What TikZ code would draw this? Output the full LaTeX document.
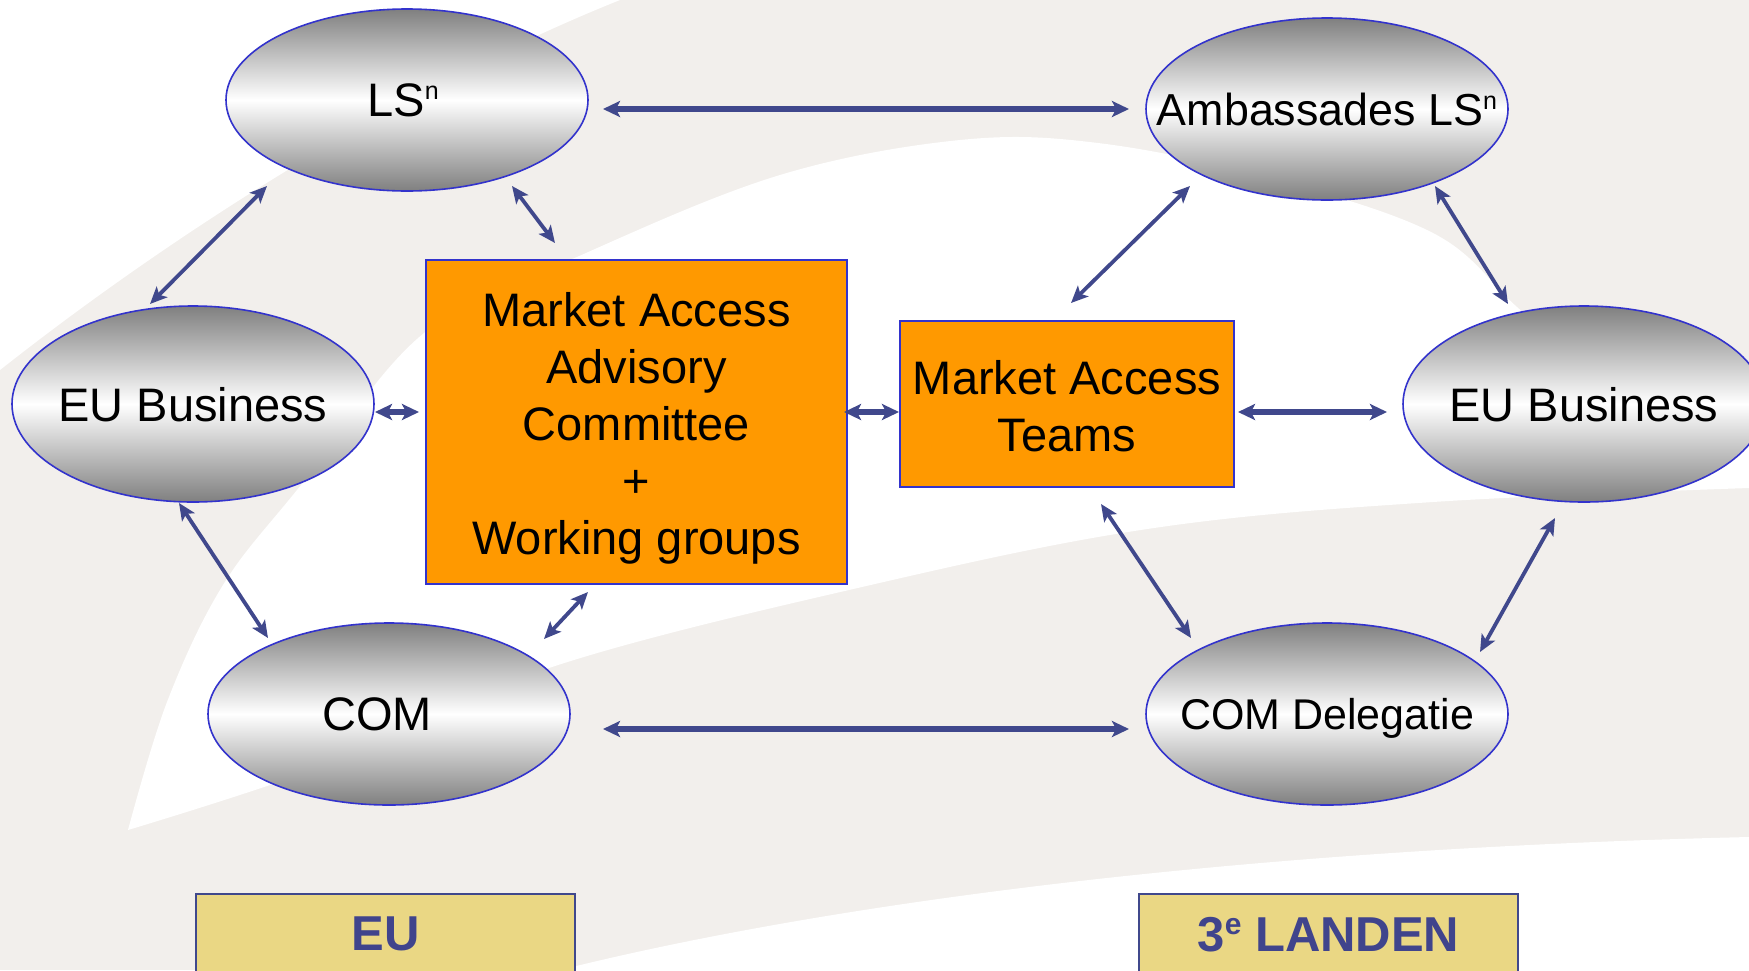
\documentclass[tikz,border=0pt]{standalone}
\usepackage{fontspec}
\setmainfont{Liberation Sans}
\usetikzlibrary{shapes.geometric,arrows.meta,calc}
\definecolor{bgray}{RGB}{242,239,236}
\definecolor{arrowc}{RGB}{64,72,140}
\definecolor{ellborder}{RGB}{51,51,204}
\definecolor{orangefill}{RGB}{255,153,0}
\definecolor{sandfill}{RGB}{234,215,132}
\definecolor{labtext}{RGB}{64,68,140}
\newcommand\mysup[2]{\raisebox{#2}{\fontsize{#1}{#1}\selectfont n}}
\newcommand\mysupe[2]{\raisebox{#2}{\fontsize{#1}{#1}\selectfont\bfseries e}}
\begin{document}
\begin{tikzpicture}[x=0.5pt,y=-0.5pt,
  ell/.style={ellipse, draw=ellborder, line width=0.8pt, top color=black!50, bottom color=black!50, middle color=white, minimum width=181pt, minimum height=91pt, inner sep=0pt},
  elltext/.style={font=\fontsize{23.5}{28}\selectfont, text depth=0pt, inner sep=0pt},
  orbox/.style={draw=ellborder, line width=1pt, fill=orangefill, inner sep=0pt},
  ortext/.style={align=center, font=\fontsize{23.5}{28.5}\selectfont, inner sep=0pt},
  regbox/.style={draw=arrowc, line width=1pt, fill=sandfill, text=labtext, font=\fontsize{24.5}{28}\selectfont\bfseries, inner sep=0pt, minimum width=189.5pt, minimum height=40pt, text depth=0pt},
  link/.style={arrowc, line width=1.9pt, {Stealth[length=8.5pt,width=7.5pt,inset=2pt]}-{Stealth[length=8.5pt,width=7.5pt,inset=2pt]}},
  biglink/.style={arrowc, line width=2.9pt, {Stealth[length=8.5pt,width=8pt,inset=2pt]}-{Stealth[length=8.5pt,width=8pt,inset=2pt]}},
]
\clip (0,0) rectangle (1749,970);
% background
\fill[bgray] (0,0) rectangle (1749,970);
\fill[white] (0,0) -- (620,0) .. controls (420,80) and (190,220) .. (0,370) -- cycle;
\fill[white] plot[smooth, tension=0.6] coordinates {(128,830) (167,702) (223,585) (301,485) (424,333) (586,253) (780,175) (960,140) (1098,143) (1266,177) (1433,233) (1517,307) (1600,380) (1749,440)}
  -- (1749,488) -- plot[smooth, tension=0.6] coordinates {(1749,488) (1433,502) (1154,528) (875,584) (552,667) (335,762) (128,830)} -- cycle;
\fill[white] (560,970) .. controls (800,910) and (1200,850) .. (1749,837) -- (1749,970) -- cycle;

% nodes
\node[ell, label={[elltext, xshift=-2pt]center:LS\mysup{12.5}{8.5pt}}] (LS) at (407,100) {};
\node[ell, label={[elltext, font=\fontsize{22.4}{26}\selectfont]center:Ambassades LS\mysup{12.5}{8pt}}] (AMB) at (1327,109) {};
\node[ell, minimum height=98pt, label={[elltext]center:EU Business}] (EUL) at (193,404) {};
\node[ell, minimum height=98pt, label={[elltext]center:EU Business}] (EUR) at (1584,404) {};
\node[ell, label={[elltext, xshift=-6pt]center:COM}] (COM) at (389,714) {};
\node[ell, label={[elltext, font=\fontsize{21.5}{26}\selectfont]center:COM Delegatie}] (DEL) at (1327,714) {};

\node[orbox, minimum width=210.5pt, minimum height=162pt, label={[ortext, yshift=-3pt]center:Market Access\\Advisory\\Committee\\+\\Working groups}] (MAAC) at (636.5,422) {};
\node[orbox, minimum width=167pt, minimum height=83pt, label={[ortext, yshift=-1pt]center:Market Access\\Teams}] (MAT) at (1067,404) {};

\node[regbox] (EU) at (385.5,934) {EU};
\node[regbox] (LAND) at (1328.5,934) {3\mysupe{15}{8.5pt} LANDEN};

% connectors
\draw[biglink] ($(LS)+(196,9)$) -- ($(AMB)+(-198,0)$);
\draw[biglink] ($(COM)+(214,15)$) -- ($(DEL)+(-198,15)$);
\draw[link] ($(LS)+(-140,86)$) -- ($(EUL)+(-43,-100)$);
\draw[link] ($(LS)+(105,86)$) -- ($(MAAC.north)+(-81.5,-16)$);
\draw[biglink] ($(EUL)+(182,8)$) -- ($(MAAC.west)+(-6,-10)$);
\draw[biglink] ($(MAAC.east)+(-4,-10)$) -- ($(MAT.west)+(0,8)$);
\draw[biglink] ($(MAT.east)+(3,8)$) -- ($(EUR)+(-197,8)$);
\draw[link] ($(AMB)+(-137,77)$) -- ($(MAT.north)+(4,-17)$);
\draw[link] ($(AMB)+(108,77)$) -- ($(EUR)+(-76,-100)$);
\draw[link] ($(EUL)+(-14,99)$) -- ($(COM)+(-121,-76)$);
\draw[link] ($(MAAC.south)+(-48.5,7)$) -- ($(COM)+(155,-75)$);
\draw[link] ($(MAT.south)+(34,16)$) -- ($(DEL)+(-136,-76)$);
\draw[link] ($(EUR)+(-29,114)$) -- ($(DEL)+(153,-62)$);
\end{tikzpicture}
\end{document}
